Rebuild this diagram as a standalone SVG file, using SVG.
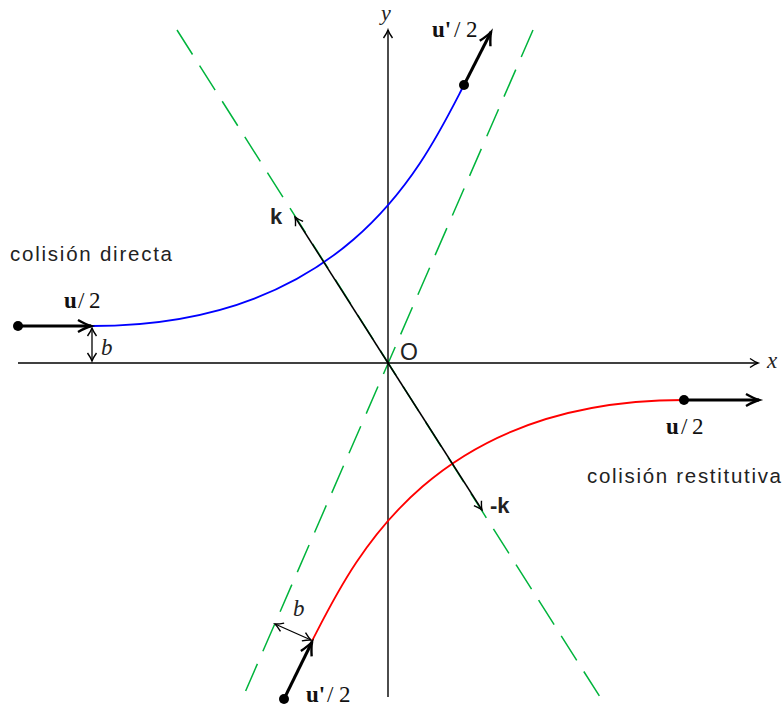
<svg xmlns="http://www.w3.org/2000/svg" width="783" height="710" viewBox="0 0 783 710">
<style>
.ax{stroke:#000;stroke-width:1.4;fill:none}
.thin{stroke:#000;stroke-width:1.5;fill:none}
.thick{stroke:#000;stroke-width:3;fill:none}
.dash{stroke:#00b43c;stroke-width:1.5;fill:none}
.sans{font-family:"Liberation Sans","DejaVu Sans",sans-serif;fill:#222}
.serif{font-family:"Liberation Serif","DejaVu Serif",serif;fill:#111}
.it{font-family:"Liberation Serif","DejaVu Serif",serif;font-style:italic;fill:#222}
</style>
<defs>
<marker id="ah" markerUnits="userSpaceOnUse" viewBox="-12 -7 14 14" markerWidth="14" markerHeight="14" refX="0" refY="0" orient="auto-start-reverse" overflow="visible">
<path d="M-8,-4.5 Q-3,-1 0,0 Q-3,1 -8,4.5" fill="none" stroke="#000" stroke-width="1.4"/>
</marker>
<marker id="ahT" markerUnits="userSpaceOnUse" viewBox="-16 -8 18 16" markerWidth="18" markerHeight="16" refX="0" refY="0" orient="auto" overflow="visible">
<path d="M-13,-6 Q-5,-1.5 0,0 Q-5,1.5 -13,6" fill="none" stroke="#000" stroke-width="2.4"/>
</marker>
</defs>

<g id="asymptotes">
<line class="dash" x1="177" y1="30" x2="600" y2="697" stroke-dasharray="29 13.2"/>
<line class="dash" x1="533" y1="30" x2="243" y2="697" stroke-dasharray="29.5 13.7"/>
</g>

<g id="axes">
<line class="ax" x1="18" y1="363" x2="758" y2="363" marker-end="url(#ah)"/>
<line class="ax" x1="388" y1="697" x2="388" y2="30" marker-end="url(#ah)"/>
<text class="it" x="767" y="368" font-size="23">x</text>
<text class="it" x="381" y="20" font-size="22">y</text>
<text class="sans" x="400" y="360" font-size="23">O</text>
</g>

<g id="trajectories">
<path d="M92,326 C350,326 425,160 464,85" fill="none" stroke="#0000ff" stroke-width="1.8"/>
<path d="M684,400 C426,400 351,566 312,641" fill="none" stroke="#ff0000" stroke-width="1.8"/>
</g>

<g id="connectors">
<line class="thin" x1="388" y1="363" x2="295" y2="217" marker-end="url(#ah)"/>
<line class="thin" x1="388" y1="363" x2="482" y2="510" marker-end="url(#ah)"/>
<line class="thick" x1="18" y1="326" x2="91" y2="326" marker-end="url(#ahT)"/>
<line class="thick" x1="684" y1="400" x2="759" y2="400" marker-end="url(#ahT)"/>
<line class="thick" x1="464" y1="85" x2="491" y2="32" marker-end="url(#ahT)"/>
<line class="thick" x1="284" y1="699" x2="312" y2="642" marker-end="url(#ahT)"/>
<line stroke="#000" stroke-width="1.3" x1="92" y1="328" x2="92" y2="361" marker-start="url(#ah)" marker-end="url(#ah)"/>
<line stroke="#000" stroke-width="1.3" x1="275" y1="624" x2="311" y2="640" marker-start="url(#ah)" marker-end="url(#ah)"/>
<circle cx="18" cy="326" r="5"/>
<circle cx="684" cy="400" r="5"/>
<circle cx="464" cy="85" r="5"/>
<circle cx="284" cy="699" r="5"/>
</g>

<g id="labels">
<text class="sans" x="10" y="261" font-size="20.5" textLength="162" lengthAdjust="spacing">colisión directa</text>
<text class="sans" x="587" y="483" font-size="20.5" textLength="194" lengthAdjust="spacing">colisión restitutiva</text>
<text class="sans" x="270" y="224" font-size="22" font-weight="bold">k</text>
<text class="sans" x="490" y="513" font-size="22" font-weight="bold">-k</text>
<text class="it" x="101" y="355" font-size="23">b</text>
<text class="it" x="293" y="616" font-size="23">b</text>
<text class="serif" font-size="23" y="308"><tspan x="64" font-weight="bold">u</tspan><tspan x="78">/</tspan><tspan x="89">2</tspan></text>
<text class="serif" font-size="23" y="434"><tspan x="666" font-weight="bold">u</tspan><tspan x="681">/</tspan><tspan x="692">2</tspan></text>
<text class="serif" font-size="23" y="37"><tspan x="432" font-weight="bold">u'</tspan><tspan x="454">/</tspan><tspan x="466">2</tspan></text>
<text class="serif" font-size="23" y="702"><tspan x="306" font-weight="bold">u'</tspan><tspan x="327">/</tspan><tspan x="339">2</tspan></text>
</g>
</svg>
